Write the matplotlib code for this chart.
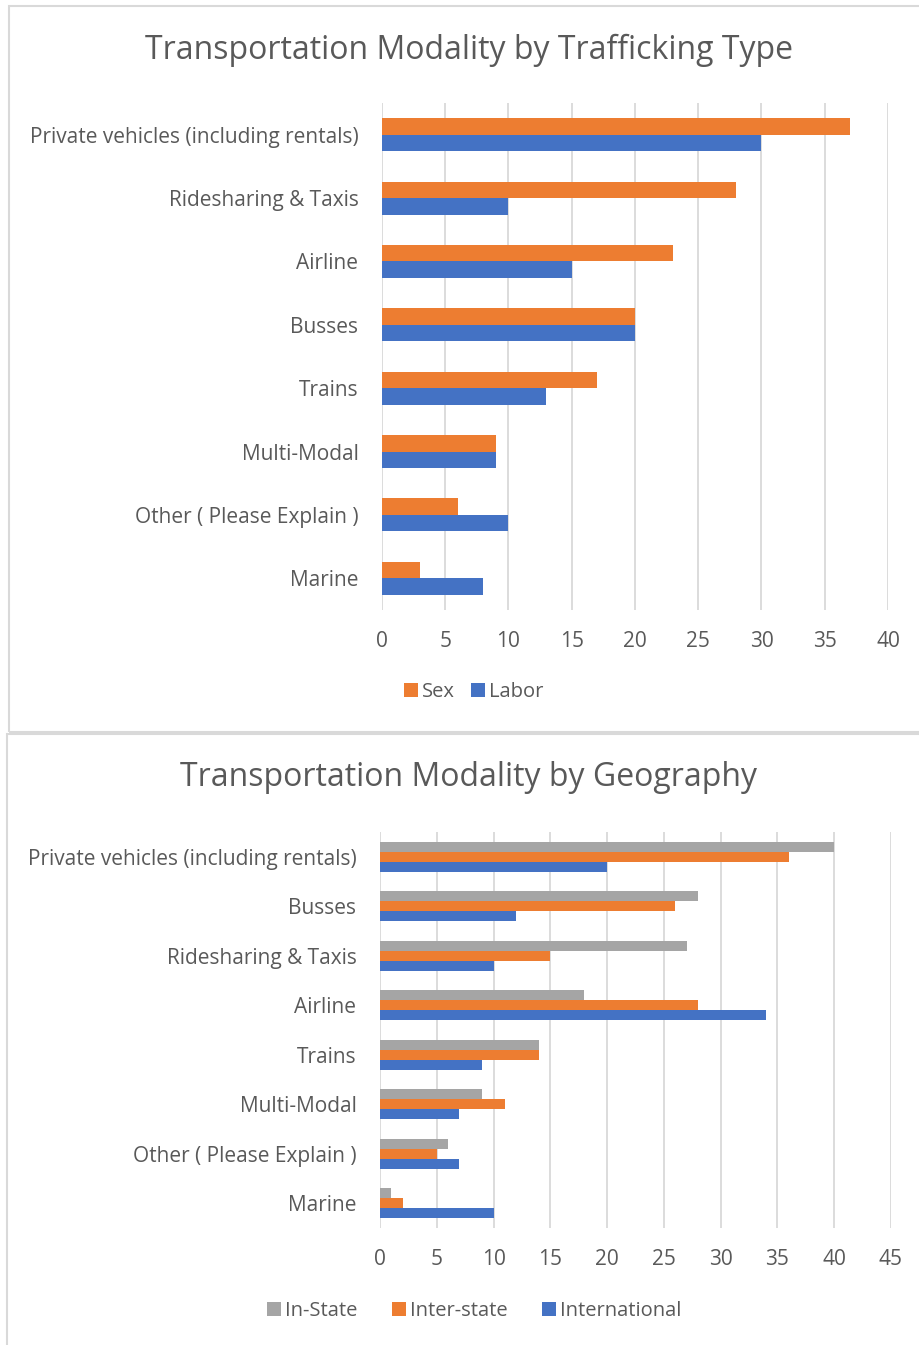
import numpy as np
import matplotlib.pyplot as plt
from matplotlib.patches import Rectangle

plt.rcParams['font.family'] = ['Open Sans', 'DejaVu Sans']

# top chart data
cats1 = ["Private vehicles (including rentals)", "Ridesharing & Taxis", "Airline",
         "Busses", "Trains", "Multi-Modal", "Other ( Please Explain )", "Marine"]
sex = [37, 28, 23, 20, 17, 9, 6, 3]
labor = [30, 10, 15, 20, 13, 9, 10, 8]

# bottom chart data
cats2 = ["Private vehicles (including rentals)", "Busses", "Ridesharing & Taxis", "Airline",
         "Trains", "Multi-Modal", "Other ( Please Explain )", "Marine"]
in_state = [40, 28, 27, 18, 14, 9, 6, 1]
inter_state = [36, 26, 15, 28, 14, 11, 5, 2]
international = [20, 12, 10, 34, 9, 7, 7, 10]

ORANGE = '#ED7D31'
BLUE = '#4472C4'
GRAY = '#A5A5A5'
TXT = '#595959'
GRID = '#D9D9D9'

W, H = 920, 1345
fig = plt.figure(figsize=(W / 100, H / 100), dpi=100)


def ax_rect(x0, y0, x1, y1):
    return [x0 / W, 1 - y1 / H, (x1 - x0) / W, (y1 - y0) / H]


def style(ax, xmax, step):
    ax.set_xlim(0, xmax)
    ax.set_xticks(np.arange(0, xmax + 1, step))
    ax.grid(axis='x', color=GRID, lw=1.3)
    ax.set_axisbelow(True)
    for s in ax.spines.values():
        s.set_visible(False)
    ax.tick_params(length=0, labelsize=15, labelcolor=TXT)
    ax.tick_params(axis='x', pad=15)
    ax.tick_params(axis='y', pad=17)


# panel borders
fig.patches.append(Rectangle((9 / W, 1 - 732 / H), 1, 726 / H, transform=fig.transFigure,
                             fill=False, ec=GRID, lw=1.5))
fig.patches.append(Rectangle((7 / W, -0.01), 1, (1345 - 734) / H + 0.01, transform=fig.transFigure,
                             fill=False, ec=GRID, lw=1.5))

leg_kw = dict(loc='center', frameon=False, fontsize=14.5, labelcolor=TXT, handlelength=0.7,
              handleheight=0.7, handletextpad=0.2)

# top chart
ax1 = fig.add_axes(ax_rect(382, 103, 888, 610))
y = np.arange(len(cats1))
h = 0.26
b1 = ax1.barh(y - h / 2, sex, height=h, color=ORANGE, label='Sex')
b2 = ax1.barh(y + h / 2, labor, height=h, color=BLUE, label='Labor')
ax1.set_yticks(y)
ax1.set_yticklabels(cats1)
ax1.set_ylim(len(cats1) - 0.5, -0.5)
style(ax1, 40, 5)
fig.text(469 / W, 1 - 50 / H, "Transportation Modality by Trafficking Type",
         ha='center', va='center', fontsize=23, color=TXT)
fig.legend(handles=[b1, b2], bbox_to_anchor=(474 / W, 1 - 692 / H), ncol=2,
           columnspacing=0.8, **leg_kw)

# bottom chart
ax2 = fig.add_axes(ax_rect(380, 832, 891, 1228))
y = np.arange(len(cats2))
h = 0.2
c1 = ax2.barh(y - h, in_state, height=h, color=GRAY, label='In-State')
c2 = ax2.barh(y, inter_state, height=h, color=ORANGE, label='Inter-state')
c3 = ax2.barh(y + h, international, height=h, color=BLUE, label='International')
ax2.set_yticks(y)
ax2.set_yticklabels(cats2)
ax2.set_ylim(len(cats2) - 0.5, -0.5)
style(ax2, 45, 5)
fig.text(469 / W, 1 - 778 / H, "Transportation Modality by Geography",
         ha='center', va='center', fontsize=23, color=TXT)
fig.legend(handles=[c1, c2, c3], bbox_to_anchor=(474 / W, 1 - 1311 / H), ncol=3,
           columnspacing=1.7, **leg_kw)

fig.savefig('out.png', dpi=100)
